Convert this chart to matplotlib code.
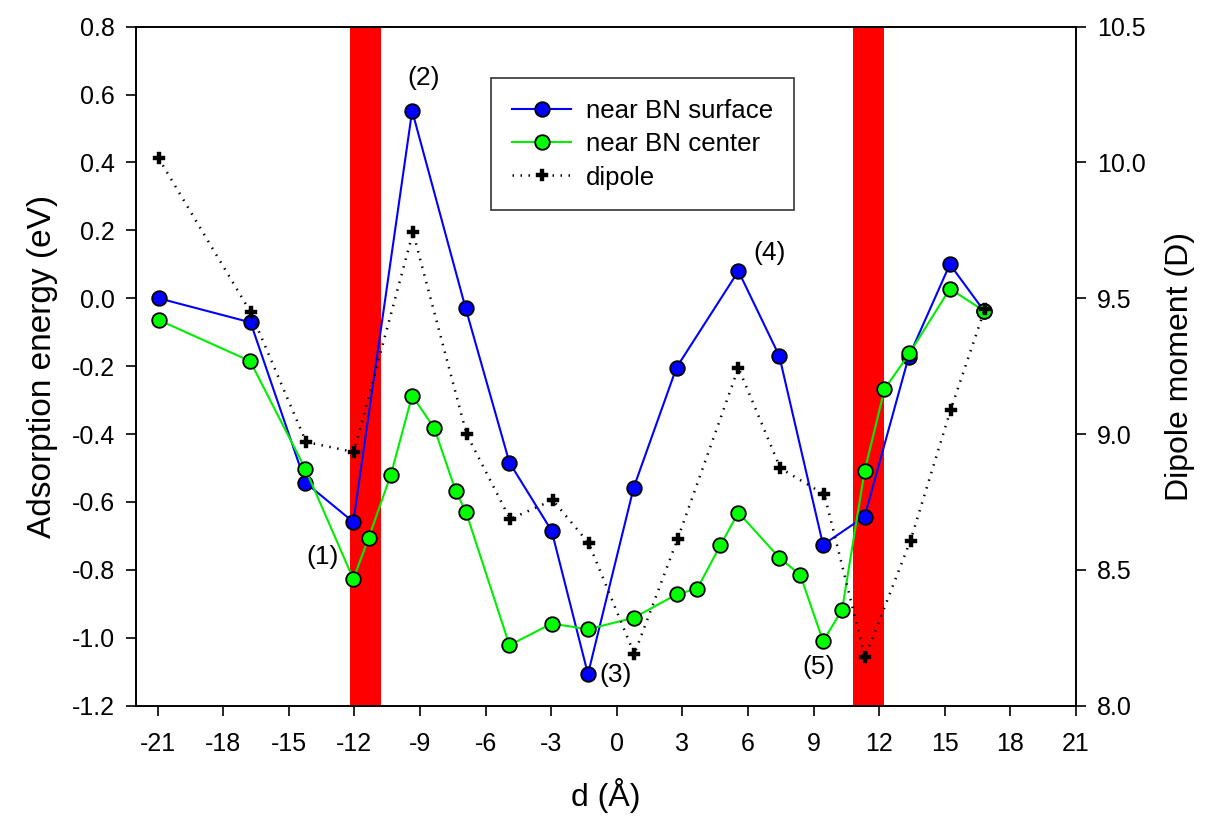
import matplotlib
matplotlib.use("Agg")
import matplotlib.pyplot as plt

plt.rcParams['font.family'] = ['Liberation Sans', 'DejaVu Sans']
plt.rcParams['axes.unicode_minus'] = False

# ---- data ----
x_surface = [-20.95, -16.75, -14.24, -12.05, -9.36, -6.92, -4.91, -2.98, -1.32, 0.77,
             2.73, 5.56, 7.43, 9.43, 11.33, 13.34, 15.23, 16.79]
e_surface = [0.0, -0.071, -0.543, -0.659, 0.552, -0.028, -0.484, -0.685, -1.107, -0.558,
             -0.204, 0.080, -0.170, -0.726, -0.643, -0.174, 0.100, -0.037]

x_center = [-20.95, -16.77, -14.24, -12.05, -11.35, -10.34, -9.36, -8.35, -7.36, -6.90,
            -4.91, -2.98, -1.32, 0.78, 2.74, 3.68, 4.74, 5.56, 7.43, 8.39,
            9.43, 10.30, 11.33, 12.24, 13.38, 15.23, 16.79]
e_center = [-0.064, -0.185, -0.503, -0.827, -0.706, -0.521, -0.287, -0.382, -0.569, -0.629,
            -1.022, -0.958, -0.975, -0.941, -0.872, -0.855, -0.727, -0.631, -0.764, -0.815,
            -1.010, -0.918, -0.509, -0.268, -0.162, 0.028, -0.037]

x_dipole = [-20.95, -16.74, -14.21, -12.03, -9.32, -6.87, -4.88, -2.93, -1.29, 0.80,
            2.78, 5.56, 7.48, 9.49, 11.35, 13.43, 15.26, 16.83]
dipole = [10.015, 9.448, 8.971, 8.934, 9.743, 9.000, 8.687, 8.757, 8.599, 8.190,
          8.614, 9.244, 8.874, 8.778, 8.178, 8.608, 9.088, 9.461]

bands = [(-12.2, -10.8), (10.8, 12.2)]

labels = ["(1)", "(2)", "(3)", "(4)", "(5)"]
label_x = [-13.45, -8.85, -0.05, 6.98, 9.23]
label_y = [-0.761, 0.650, -1.110, 0.133, -1.085]

x_ticks = list(range(-21, 22, 3))
y_ticks = [-1.2, -1.0, -0.8, -0.6, -0.4, -0.2, 0.0, 0.2, 0.4, 0.6, 0.8]
y2_ticks = [8.0, 8.5, 9.0, 9.5, 10.0, 10.5]

# ---- figure ----
fig = plt.figure(figsize=(12.13, 8.18), dpi=100)
ax = fig.add_axes([0.1119, 0.1373, 0.7752, 0.8301])
ax2 = ax.twinx()

for a, b in bands:
    ax.axvspan(a, b, color='#ff0000', zorder=0, lw=0)

ms = 10.5
l1, = ax.plot(x_surface, e_surface, '-o', color='#0000ff', lw=1.5, ms=ms,
              mfc='#0000ff', mec='black', mew=1.3, label='near BN surface', zorder=3)
l2, = ax.plot(x_center, e_center, '-o', color='#00ee00', lw=1.5, ms=ms,
              mfc='#00ff00', mec='black', mew=1.3, label='near BN center', zorder=4)
l3, = ax2.plot(x_dipole, dipole, color='black', lw=1.8, ls=(0, (0.6, 2.6)),
               marker='P', ms=8, mfc='black', mec='black', mew=0.3, label='dipole')

for t, xx, yy in zip(labels, label_x, label_y):
    ax.text(xx, yy, t, fontsize=19, ha='center', va='center')

ax.set_xlim(-22, 21)
ax.set_ylim(-1.2, 0.8)
ax2.set_ylim(8.0, 10.5)

ax.set_xticks(x_ticks)
ax.set_xticklabels([str(v) for v in x_ticks])
ax.set_yticks(y_ticks)
ax.set_yticklabels([f"{v:.1f}" for v in y_ticks])
ax2.set_yticks(y2_ticks)
ax2.set_yticklabels([f"{v:.1f}" for v in y2_ticks])

for a in (ax, ax2):
    a.tick_params(direction='out', length=7, width=1.2, labelsize=18, pad=8)
    for s in a.spines.values():
        s.set_linewidth(1.2)
ax.tick_params(axis='x', pad=12)

ax.set_xlabel('d (Å)', fontsize=23, labelpad=16)
ax.set_ylabel('Adsorption energy (eV)', fontsize=24, labelpad=10)
ax2.set_ylabel('Dipole moment (D)', fontsize=23, labelpad=14)

leg = ax2.legend(handles=[l1, l2, l3], loc='upper left', bbox_to_anchor=(0.378, 0.924),
                 fontsize=18.6, frameon=True, fancybox=False, edgecolor='black',
                 handlelength=2.3, handletextpad=0.57, labelspacing=0.36,
                 borderpad=0.8, borderaxespad=0, numpoints=1)
leg.get_frame().set_linewidth(1.2)

fig.savefig('out.png', dpi=100)
